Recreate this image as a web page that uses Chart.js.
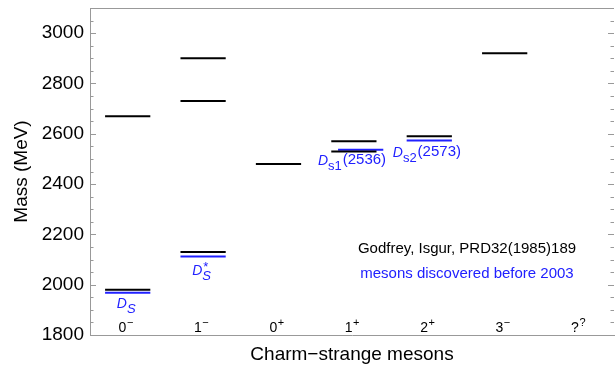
<!DOCTYPE html>
<html>
<head>
<meta charset="utf-8">
<script src="https://cdn.jsdelivr.net/npm/chart.js@4.4.1/dist/chart.umd.min.js"></script>
<style>
html, body { margin: 0; padding: 0; background: #fff; }
#wrap { width: 615px; height: 368px; }
</style>
</head>
<body>
<div id="wrap"><canvas id="levels"></canvas></div>
<script>
// J^P of each column
const spins = ['0', '1', '0', '1', '2', '3', '?'];
const parities = ['\u2212', '\u2212', '+', '+', '+', '\u2212', '?'];

// Godfrey-Isgur predicted masses (MeV)
const giMasses = [[1980, 2670], [2130, 2730, 2900], [2480], [2530, 2570], [2590], [2920], []];
// mesons discovered before 2003 (MeV)
const expMasses = [[1968], [2112], [], [2536], [2573], [], []];
const expBase = ['D', 'D', '', 'D', 'D', '', ''];
const expSub = ['S', 'S', '', 's1', 's2', '', ''];
const expSup = ['', '*', '', '', '', '', ''];
const expTail = ['', '', '', '(2536)', '(2573)', '', ''];

const yTicks = [1800, 2000, 2200, 2400, 2600, 2800, 3000];

const BLUE = '#2020ff';
const FRAME = '#999';
const FONT = 'Liberation Sans, Arial, sans-serif';
const HALF = 0.3;

function seg(x, m, color) {
    return {
        data: [{ x: x - HALF, y: m }, { x: x + HALF, y: m }],
        showLine: true,
        borderColor: color,
        borderWidth: 2,
        pointRadius: 0,
        pointHoverRadius: 0,
        fill: false
    };
}

const datasets = [];
giMasses.forEach((ms, i) => ms.forEach(m => datasets.push(seg(i + 1, m, '#000'))));
expMasses.forEach((ms, i) => ms.forEach(m => {
    const d = seg(i + 1, m, BLUE);
    // the 1+ observed level is drawn slightly to the right
    if (i === 3) d.data.forEach(p => p.x += 0.09);
    datasets.push(d);
}));

// label placement for the observed levels (pixels relative to the level)
const labelLayout = [
    { align: 'center', dx: -1, dy: 15 },
    { align: 'center', dx: -1, dy: 18.5 },
    null,
    { align: 'left', dx: -36, dy: 15 },
    { align: 'left', dx: -36.5, dy: 16.5 },
    null, null
];

function drawExpLabel(ctx, x, y, i, align) {
    const baseFont = 'italic 14px ' + FONT;
    const subItalic = expSub[i] === 'S';
    const subFont = (subItalic ? 'italic ' : '') + '13px ' + FONT;
    const tailFont = '15px ' + FONT;
    ctx.font = baseFont;
    const wb = ctx.measureText(expBase[i]).width;
    ctx.font = subFont;
    const ws = ctx.measureText(expSub[i]).width + 1;
    ctx.font = tailFont;
    const wt = ctx.measureText(expTail[i]).width;
    const total = wb + ws + wt;
    let x0 = align === 'center' ? x - total / 2 : x;
    ctx.fillStyle = BLUE;
    ctx.textAlign = 'left';
    ctx.textBaseline = 'alphabetic';
    ctx.font = baseFont;
    ctx.fillText(expBase[i], x0, y);
    ctx.font = subFont;
    ctx.fillText(expSub[i], x0 + wb, y + 5);
    if (expSup[i]) {
        ctx.font = '13px ' + FONT;
        ctx.fillText(expSup[i], x0 + wb + 1, y - 4);
    }
    ctx.font = tailFont;
    ctx.fillText(expTail[i], x0 + wb + ws, y - 1);
}

const decorations = {
    id: 'decorations',
    afterDraw(chart) {
        const { ctx, chartArea, scales } = chart;
        const xs = scales.x, ys = scales.y;
        ctx.save();

        // top frame and inner tick marks on both sides
        ctx.strokeStyle = FRAME;
        ctx.lineWidth = 1;
        ctx.beginPath();
        ctx.moveTo(chartArea.left, chartArea.top + 0.5);
        ctx.lineTo(chartArea.right, chartArea.top + 0.5);
        for (let v = ys.min; v <= ys.max; v += 50) {
            const py = Math.round(ys.getPixelForValue(v)) + 0.5;
            const len = v % 200 === 0 ? 6 : 3.5;
            ctx.moveTo(chartArea.left, py);
            ctx.lineTo(chartArea.left + len, py);
            ctx.moveTo(chartArea.right, py);
            ctx.lineTo(chartArea.right - len, py);
        }
        ctx.stroke();

        // J^P labels inside the frame
        ctx.fillStyle = '#000';
        ctx.textBaseline = 'alphabetic';
        ctx.textAlign = 'left';
        spins.forEach((s, i) => {
            const cx = xs.getPixelForValue(i + 1) - 2;
            ctx.font = '14px ' + FONT;
            const w1 = ctx.measureText(s).width;
            ctx.font = '11px ' + FONT;
            const w2 = ctx.measureText(parities[i]).width;
            const x0 = cx - (w1 + w2) / 2;
            const by = chartArea.bottom - 3;
            ctx.font = '14px ' + FONT;
            ctx.fillText(s, x0, by);
            ctx.font = '11px ' + FONT;
            ctx.fillText(parities[i], x0 + w1 + 0.5, by - 6);
        });

        // names of the observed mesons
        expMasses.forEach((ms, i) => {
            const lay = labelLayout[i];
            if (!ms.length || !lay) return;
            const px = xs.getPixelForValue(i + 1) + lay.dx;
            const py = ys.getPixelForValue(ms[0]) + lay.dy;
            drawExpLabel(ctx, px, py, i, lay.align);
        });

        // source note
        ctx.textAlign = 'center';
        ctx.font = '15px ' + FONT;
        ctx.fillStyle = '#000';
        ctx.fillText('Godfrey, Isgur, PRD32(1985)189', xs.getPixelForValue(5.5), ys.getPixelForValue(2125));
        ctx.fillStyle = BLUE;
        ctx.fillText('mesons discovered before 2003', xs.getPixelForValue(5.5), ys.getPixelForValue(2026));
        ctx.restore();
    }
};

new Chart(document.getElementById('levels'), {
    type: 'scatter',
    data: { datasets: datasets },
    options: {
        responsive: true,
        maintainAspectRatio: false,
        animation: false,
        events: [],
        layout: { padding: { top: 8, right: 1, left: 0, bottom: 0 } },
        plugins: { legend: { display: false }, tooltip: { enabled: false } },
        scales: {
            x: {
                type: 'linear',
                min: 0.5,
                max: 7.45,
                afterFit: s => { s.height = 33; s.paddingLeft = 0; s.paddingRight = 0; },
                ticks: { display: false },
                grid: { display: false, drawTicks: false },
                border: { color: FRAME, width: 1 },
                title: {
                    display: true,
                    text: 'Charm\u2212strange mesons',
                    color: '#000',
                    font: { family: FONT, size: 19 },
                    padding: { top: 0, bottom: 2 }
                }
            },
            y: {
                min: 1800,
                max: 3100,
                afterFit: s => { s.width = 90; s.paddingTop = 0; s.paddingBottom = 0; },
                afterBuildTicks: s => { s.ticks = yTicks.map(v => ({ value: v })); },
                ticks: {
                    color: '#000',
                    font: { family: FONT, size: 19 },
                    padding: 6,
                    autoSkip: false,
                    callback: v => String(v)
                },
                grid: { display: false, drawTicks: false },
                border: { color: FRAME, width: 1 },
                title: {
                    display: true,
                    text: 'Mass (MeV)',
                    color: '#000',
                    font: { family: FONT, size: 19 },
                    padding: { top: 10, bottom: 0 }
                }
            }
        }
    },
    plugins: [decorations]
});
</script>
</body>
</html>
